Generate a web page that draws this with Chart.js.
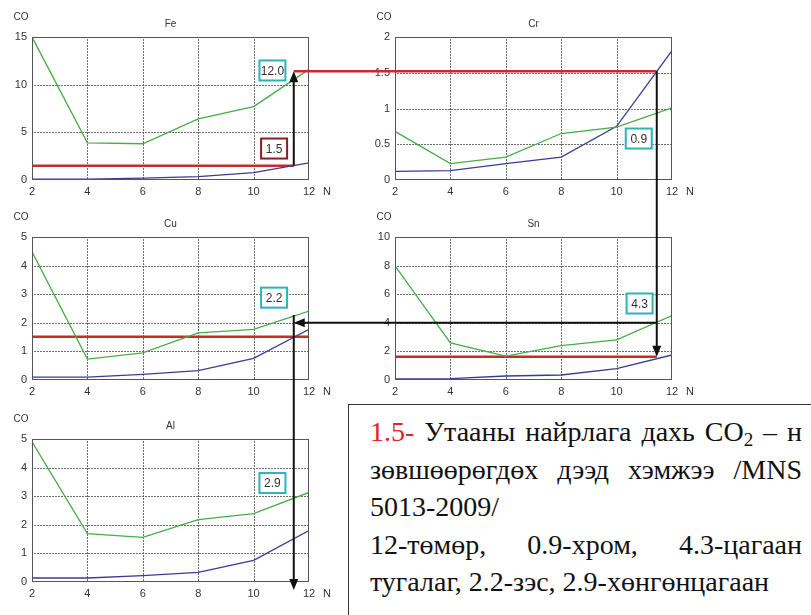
<!DOCTYPE html>
<html>
<head>
<meta charset="utf-8">
<script src="https://cdn.jsdelivr.net/npm/chart.js@4.4.1/dist/chart.umd.min.js"></script>
<style>
  body { margin: 0; background: #fff; width: 811px; height: 615px; overflow: hidden; position: relative; }
  .plot { position: absolute; width: 345px; height: 200px; }
  #overlay { position: absolute; left: 0; top: 0; pointer-events: none; }
  #note {
    position: absolute; left: 348px; top: 404px; width: 432px; height: 260px;
    border: 1.5px solid #333; padding: 8px 40px 0 21px;
    font-family: "Liberation Serif", "DejaVu Serif", serif; font-size: 28px; line-height: 37.5px;
    color: #111; background: #fff;
  }
  #note .j { text-align: justify; text-align-last: justify; }
  #note .red { color: #e52222; }
  #note sub { font-size: 19px; line-height: 0; vertical-align: -5px; }
</style>
</head>
<body>
<div class="plot" style="left:0;top:0"><canvas id="fe" width="345" height="200"></canvas></div>
<div class="plot" style="left:363px;top:0"><canvas id="cr" width="345" height="200"></canvas></div>
<div class="plot" style="left:0;top:200px"><canvas id="cu" width="345" height="200"></canvas></div>
<div class="plot" style="left:363px;top:200px"><canvas id="sn" width="345" height="200"></canvas></div>
<div class="plot" style="left:0;top:402px"><canvas id="al" width="345" height="200"></canvas></div>
<canvas id="overlay" width="811" height="615"></canvas>
<div id="note">
  <div class="j"><span class="red">1.5-</span> Утааны найрлага дахь CO<sub>2</sub> – н</div>
  <div class="j">зөвшөөрөгдөх дээд хэмжээ /MNS</div>
  <div>5013-2009/</div>
  <div class="j">12-төмөр, 0.9-хром, 4.3-цагаан</div>
  <div>тугалаг, 2.2-зэс, 2.9-хөнгөнцагаан</div>
</div>

<script>
// N values on the x axis
const N = [2, 4, 6, 8, 10, 12];

// green and blue curves per metal (CO vs N)
const feGreen = [15, 3.9, 3.8, 6.4, 7.7, 11.6];
const feBlue = [0.1, 0.1, 0.2, 0.35, 0.77, 1.8];
const crGreen = [0.68, 0.23, 0.32, 0.65, 0.74, 1.01];
const crBlue = [0.12, 0.13, 0.23, 0.32, 0.75, 1.81];
const cuGreen = [4.48, 0.73, 0.95, 1.65, 1.77, 2.41];
const cuBlue = [0.1, 0.1, 0.2, 0.33, 0.76, 1.77];
const snGreen = [7.98, 2.6, 1.67, 2.4, 2.8, 4.5];
const snBlue = [0.07, 0.1, 0.28, 0.35, 0.8, 1.75];
const alGreen = [4.9, 1.69, 1.56, 2.18, 2.39, 3.13];
const alBlue = [0.14, 0.14, 0.22, 0.34, 0.76, 1.8];

// limit line (1.5) and the N where the arrows are read
const markN = 11.45;
const feLimit = 1.5;
const cuLimit = 1.51;
const snLimit = 1.63;

// y axis ranges: min, max, step
const feTicks = [0, 15, 5];
const crTicks = [0, 2, 0.5];
const cuTicks = [0, 5, 1];
const snTicks = [0, 10, 2];
const alTicks = [0, 5, 1];

// boxed values: text, N, CO, border colour
const feBoxes = [['12.0', 10.68, 11.49, '#2bb3b8'], ['1.5', 10.74, 3.3, '#8e1c1c']];
const crBoxes = [['0.9', 10.8, 0.58, '#2bb3b8']];
const cuBoxes = [['2.2', 10.74, 2.88, '#2bb3b8']];
const snBoxes = [['4.3', 10.83, 5.35, '#2bb3b8']];
const alBoxes = [['2.9', 10.68, 3.46, '#2bb3b8']];

// arrows between the panels: [chart, N, CO] -> [chart, N, CO]
const arrows = [
  { from: ['fe', markN, 1.5], to: ['fe', markN, 11.4], color: '#111', width: 2, head: true },
  { from: ['fe', markN, 11.4], to: ['cr', markN, 1.52], color: '#c92a2a', width: 2.5, head: false },
  { from: ['cr', markN, 1.52], to: ['sn', markN, 1.63], color: '#111', width: 2, head: true },
  { from: ['sn', markN, 4.0], to: ['cu', markN, 2.0], color: '#111', width: 2, head: true },
  { from: ['cu', markN, 2.27], to: ['al', markN, -0.28], color: '#111', width: 2, head: true }
];

const GREEN = '#46ad46';
const BLUE = '#3b3b96';
const RED = '#c92a2a';
const TICK_FONT = { family: '"Liberation Sans", Arial, sans-serif', size: 11 };

const decor = {
  id: 'decor',
  beforeDatasetsDraw(chart) {
    // dotted grid on the inner ticks, dots drawn one by one
    const {ctx, chartArea: a} = chart;
    const xs = chart.scales.x, ys = chart.scales.y;
    ctx.save();
    ctx.fillStyle = '#6e6e6e';
    xs.ticks.slice(1, -1).forEach((t) => {
      const x = Math.round(xs.getPixelForValue(t.value));
      for (let y = a.top + 2; y < a.bottom - 1; y += 3) ctx.fillRect(x, y, 1, 2);
    });
    ys.ticks.slice(1, -1).forEach((t) => {
      const y = Math.round(ys.getPixelForValue(t.value));
      for (let x = a.left + 2; x < a.right - 1; x += 3) ctx.fillRect(x, y, 2, 1);
    });
    ctx.restore();
  },
  afterDraw(chart, args, opts) {
    const {ctx, chartArea: a} = chart;
    const xs = chart.scales.x, ys = chart.scales.y;
    ctx.save();
    ctx.strokeStyle = '#555';
    ctx.lineWidth = 1;
    ctx.strokeRect(a.left + 0.5, a.top + 0.5, a.width - 1, a.height - 1);

    ctx.fillStyle = '#333';
    ctx.font = '10px "Liberation Sans", Arial, sans-serif';
    ctx.textAlign = 'center';
    ctx.textBaseline = 'middle';
    ctx.fillText('CO', a.left - 11, a.top - 20);
    ctx.fillText(opts.title, (a.left + a.right) / 2, a.top - 13);
    ctx.font = '11px "Liberation Sans", Arial, sans-serif';
    ctx.textAlign = 'left';
    ctx.fillText('N', a.right + 14, a.bottom + 12);

    (opts.boxes || []).forEach(([text, n, co, color]) => {
      const cx = xs.getPixelForValue(n), cy = ys.getPixelForValue(co);
      ctx.fillStyle = '#fff';
      ctx.fillRect(cx - 13, cy - 10, 26, 20);
      ctx.strokeStyle = color;
      ctx.lineWidth = 2;
      ctx.strokeRect(cx - 13, cy - 10, 26, 20);
      ctx.fillStyle = '#333';
      ctx.font = '12px "Liberation Sans", Arial, sans-serif';
      ctx.textAlign = 'center';
      ctx.fillText(text, cx, cy + 1);
    });
    ctx.restore();
  }
};

function pts(ys) {
  return N.map((n, i) => ({ x: n, y: ys[i] }));
}

function makeChart(id, title, green, blue, ticks, boxes, limit) {
  const datasets = [
    { data: pts(green), borderColor: GREEN, borderWidth: 1.3 },
    { data: pts(blue), borderColor: BLUE, borderWidth: 1.3 }
  ];
  if (limit) {
    datasets.push({ data: [{ x: N[0], y: limit[0] }, { x: limit[1], y: limit[0] }], borderColor: RED, borderWidth: 2.5 });
  }
  return new Chart(document.getElementById(id), {
    type: 'line',
    data: { datasets },
    plugins: [decor],
    options: {
      responsive: false,
      animation: false,
      layout: { padding: { top: 37, right: 36, left: 0, bottom: 0 } },
      elements: { point: { radius: 0 }, line: { tension: 0 } },
      scales: {
        x: {
          type: 'linear', min: 2, max: 12,
          afterFit: (s) => { s.height = 20; },
          ticks: { stepSize: 2, color: '#333', font: TICK_FONT, padding: 5 },
          grid: { display: false, drawTicks: false },
          border: { display: false }
        },
        y: {
          min: ticks[0], max: ticks[1],
          afterFit: (s) => { s.width = 32; },
          ticks: {
            stepSize: ticks[2], color: '#333', font: TICK_FONT, padding: 5,
            callback: (v) => String(Math.round(v * 100) / 100)
          },
          grid: { display: false, drawTicks: false },
          border: { display: false }
        }
      },
      plugins: {
        legend: { display: false },
        tooltip: { enabled: false },
        decor: { title, boxes }
      }
    }
  });
}

const charts = {
  fe: makeChart('fe', 'Fe', feGreen, feBlue, feTicks, feBoxes, [feLimit, markN]),
  cr: makeChart('cr', 'Cr', crGreen, crBlue, crTicks, crBoxes, null),
  cu: makeChart('cu', 'Cu', cuGreen, cuBlue, cuTicks, cuBoxes, [cuLimit, 12]),
  sn: makeChart('sn', 'Sn', snGreen, snBlue, snTicks, snBoxes, [snLimit, markN]),
  al: makeChart('al', 'Al', alGreen, alBlue, alTicks, alBoxes, null)
};

// page position of a value in one of the charts
function toPage([id, n, co]) {
  const c = charts[id];
  const r = c.canvas.getBoundingClientRect();
  return [r.left + c.scales.x.getPixelForValue(n), r.top + c.scales.y.getPixelForValue(co)];
}

const octx = document.getElementById('overlay').getContext('2d');
arrows.forEach((a) => {
  const [x1, y1] = toPage(a.from);
  const [x2, y2] = toPage(a.to);
  const ang = Math.atan2(y2 - y1, x2 - x1);
  const len = a.head ? 9 : 0;
  octx.strokeStyle = a.color;
  octx.fillStyle = a.color;
  octx.lineWidth = a.width;
  octx.beginPath();
  octx.moveTo(x1, y1);
  octx.lineTo(x2 - Math.cos(ang) * len, y2 - Math.sin(ang) * len);
  octx.stroke();
  if (a.head) {
    octx.beginPath();
    octx.moveTo(x2, y2);
    octx.lineTo(x2 - Math.cos(ang) * 11 + Math.sin(ang) * 4.5, y2 - Math.sin(ang) * 11 - Math.cos(ang) * 4.5);
    octx.lineTo(x2 - Math.cos(ang) * 11 - Math.sin(ang) * 4.5, y2 - Math.sin(ang) * 11 + Math.cos(ang) * 4.5);
    octx.closePath();
    octx.fill();
  }
});
</script>
</body>
</html>
